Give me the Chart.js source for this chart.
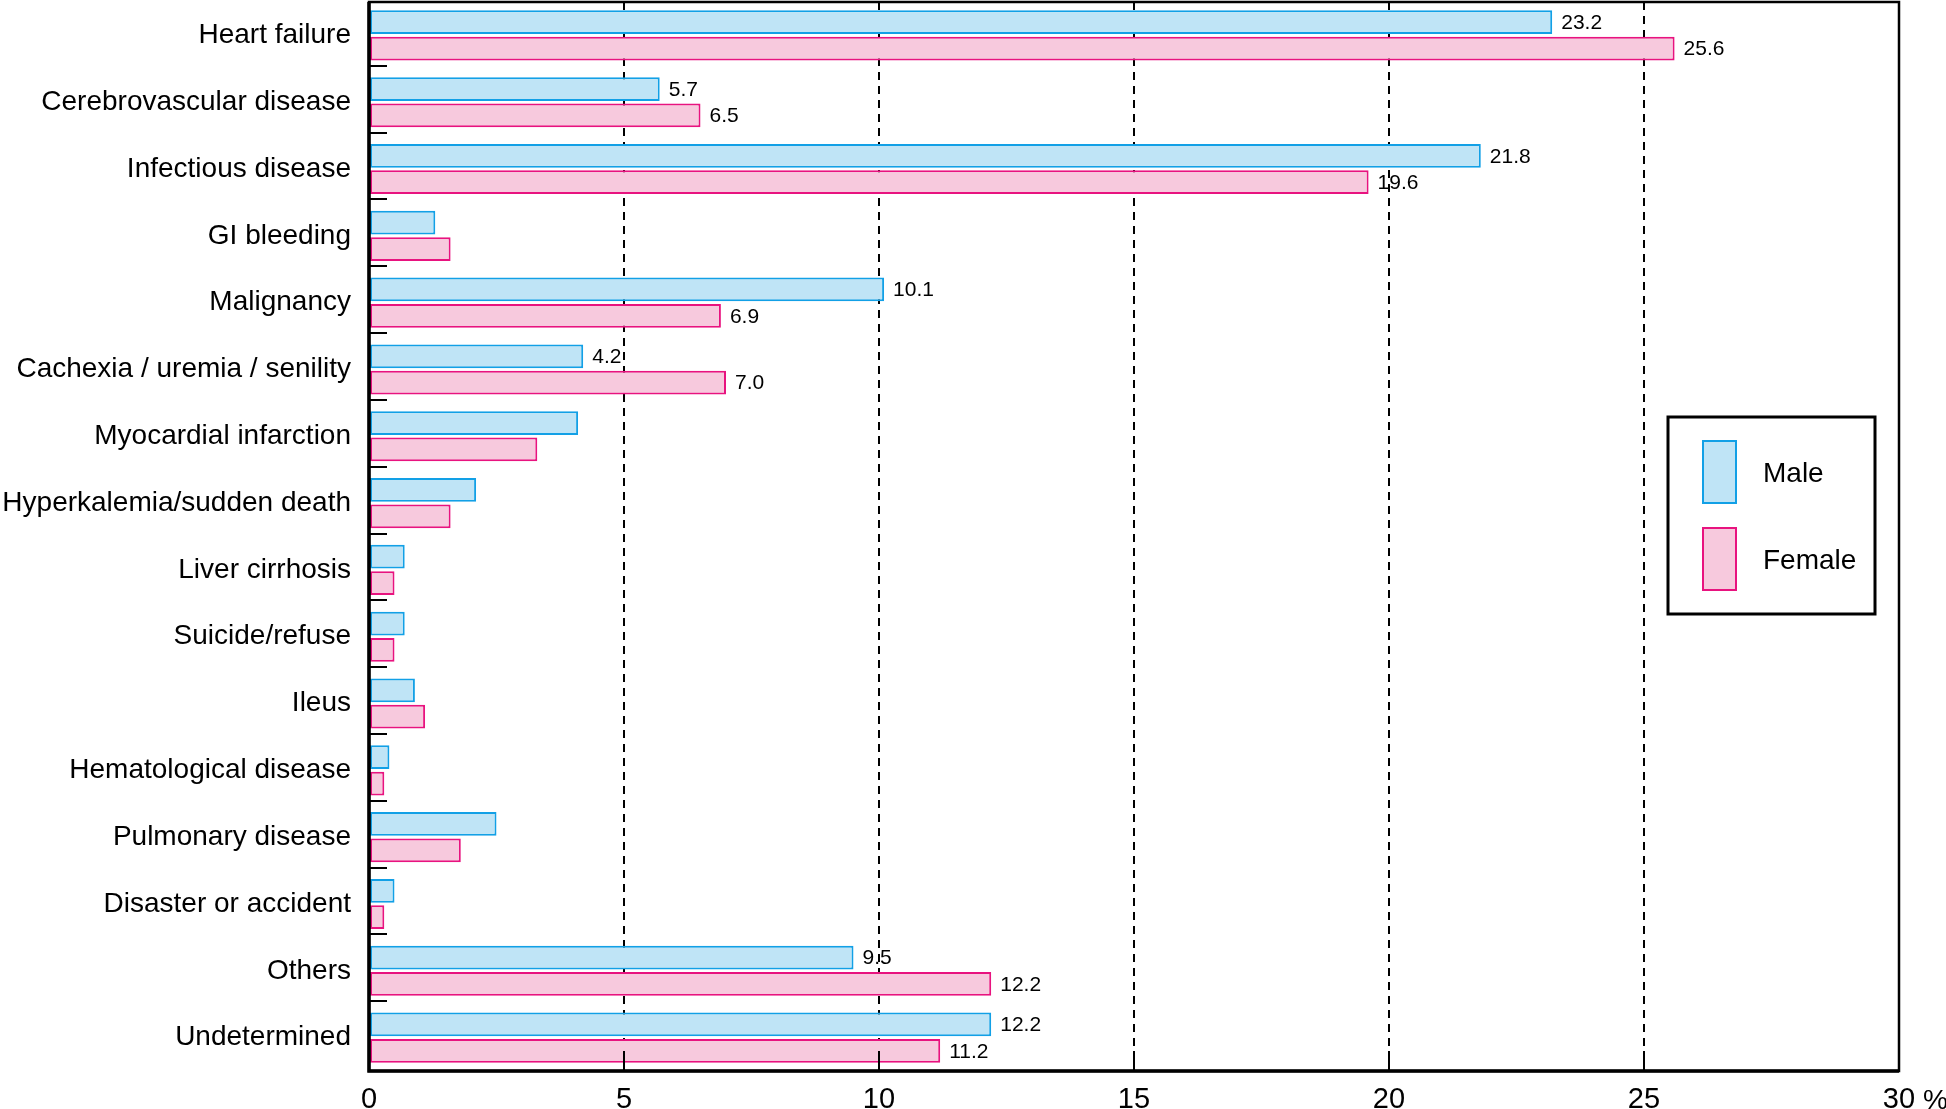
<!DOCTYPE html>
<html>
<head>
<meta charset="utf-8">
<script src="https://cdn.jsdelivr.net/npm/chart.js@4"></script>
<style>
  html, body { margin: 0; padding: 0; background: #fff; }
  #wrap { width: 1946px; height: 1109px; position: relative; }
</style>
</head>
<body>
<div id="wrap"><canvas id="causeChart"></canvas></div>
<script>
// Causes of death, % by sex
const causes = [
  'Heart failure', 'Cerebrovascular disease', 'Infectious disease', 'GI bleeding',
  'Malignancy', 'Cachexia / uremia / senility', 'Myocardial infarction',
  'Hyperkalemia/sudden death', 'Liver cirrhosis', 'Suicide/refuse', 'Ileus',
  'Hematological disease', 'Pulmonary disease', 'Disaster or accident',
  'Others', 'Undetermined'
];
const maleValues = [23.2, 5.7, 21.8, 1.3, 10.1, 4.2, 4.1, 2.1, 0.7, 0.7, 0.9, 0.4, 2.5, 0.5, 9.5, 12.2];
const femaleValues = [25.6, 6.5, 19.6, 1.6, 6.9, 7.0, 3.3, 1.6, 0.5, 0.5, 1.1, 0.3, 1.8, 0.3, 12.2, 11.2];
const xTicks = [0, 5, 10, 15, 20, 25, 30];
// only these rows carry a value label in the original
const labeledCauses = ['Heart failure', 'Cerebrovascular disease', 'Infectious disease',
  'Malignancy', 'Cachexia / uremia / senility', 'Others', 'Undetermined'];

const mainFont = '"Liberation Sans", Arial, sans-serif';

// frame, inner ticks, value labels, legend, % sign
const decorations = {
  id: 'decorations',
  afterDatasetsDraw(chart) {
    const { ctx, chartArea: area, scales: { x, y } } = chart;
    ctx.save();
    ctx.strokeStyle = '#000';

    // small ticks between categories on the left
    ctx.lineWidth = 2;
    for (let i = 0; i < causes.length - 1; i++) {
      const yy = Math.round((y.getPixelForTick(i) + y.getPixelForTick(i + 1)) / 2) - 3;
      ctx.beginPath();
      ctx.moveTo(area.left, yy);
      ctx.lineTo(area.left + 18, yy);
      ctx.stroke();
    }
    // solid ticks above the x axis
    xTicks.slice(1, -1).forEach(v => {
      const xx = Math.round(x.getPixelForValue(v));
      ctx.beginPath();
      ctx.moveTo(xx, area.bottom);
      ctx.lineTo(xx, area.bottom - 20);
      ctx.stroke();
    });

    // frame
    ctx.lineWidth = 2.5;
    ctx.strokeRect(area.left, area.top, area.right - area.left, area.bottom - area.top);
    ctx.lineWidth = 3.5;
    ctx.beginPath();
    ctx.moveTo(area.left, area.top);
    ctx.lineTo(area.left, area.bottom);
    ctx.lineTo(area.right, area.bottom);
    ctx.stroke();

    // value labels
    ctx.fillStyle = '#000';
    ctx.font = '21px ' + mainFont;
    ctx.textAlign = 'left';
    ctx.textBaseline = 'middle';
    chart.data.datasets.forEach((ds, di) => {
      chart.getDatasetMeta(di).data.forEach((bar, i) => {
        if (!labeledCauses.includes(causes[i])) return;
        ctx.fillText(ds.data[i].toFixed(1), bar.x + 9, bar.y + 1);
      });
    });

    // % after the last tick
    ctx.font = '28px ' + mainFont;
    ctx.textAlign = 'left';
    ctx.fillText('%', x.getPixelForValue(30) + 24, area.bottom + 30);

    // legend box
    const lx = area.right - 231, ly = area.top + 415;
    ctx.lineWidth = 3;
    ctx.strokeRect(lx, ly, 207, 197);
    chart.data.datasets.forEach((ds, di) => {
      const sy = ly + 23 + di * 87;
      ctx.fillStyle = ds.backgroundColor;
      ctx.fillRect(lx + 34, sy, 35, 64);
      ctx.strokeStyle = ds.borderColor;
      ctx.lineWidth = 2;
      ctx.strokeRect(lx + 35, sy + 1, 33, 62);
      ctx.fillStyle = '#000';
      ctx.font = '28px ' + mainFont;
      ctx.textAlign = 'left';
      ctx.fillText(ds.label, lx + 95, sy + 34);
    });
    ctx.restore();
  }
};

const ctx = document.getElementById('causeChart').getContext('2d');
const causeChart = new Chart(ctx, {
  type: 'bar',
  data: {
    labels: causes,
    datasets: [{
      label: 'Male',
      data: maleValues,
      backgroundColor: '#bfe4f6',
      borderColor: '#12a0e6',
      borderWidth: 2,
      borderSkipped: false
    }, {
      label: 'Female',
      data: femaleValues,
      backgroundColor: '#f7c9dd',
      borderColor: '#e8137f',
      borderWidth: 2,
      borderSkipped: false
    }]
  },
  options: {
    indexAxis: 'y',
    responsive: true,
    maintainAspectRatio: false,
    animation: false,
    categoryPercentage: 0.79,
    barPercentage: 0.9,
    layout: { padding: { top: 2, right: 47, bottom: 0, left: 0 } },
    plugins: {
      legend: { display: false },
      tooltip: { enabled: false }
    },
    scales: {
      x: {
        type: 'linear',
        min: 0,
        max: 30,
        afterBuildTicks: scale => { scale.ticks = xTicks.map(v => ({ value: v })); },
        afterFit: scale => { scale.height = 38; scale.paddingLeft = 0; scale.paddingRight = 0; },
        grid: {
          drawTicks: false,
          color: c => (c.tick && (c.tick.value === 0 || c.tick.value === 30)) ? 'rgba(0,0,0,0)' : '#000',
          lineWidth: 2
        },
        border: { display: false, dash: [8, 6] },
        ticks: {
          color: '#000',
          padding: 12,
          maxRotation: 0,
          font: { family: mainFont, size: 29 }
        }
      },
      y: {
        afterFit: scale => { scale.width = 369; scale.paddingTop = 0; scale.paddingBottom = 0; },
        grid: { display: false },
        border: { display: false },
        ticks: {
          color: '#000',
          padding: 10,
          autoSkip: false,
          font: { family: mainFont, size: 28 }
        }
      }
    }
  },
  plugins: [decorations]
});
</script>
</body>
</html>
